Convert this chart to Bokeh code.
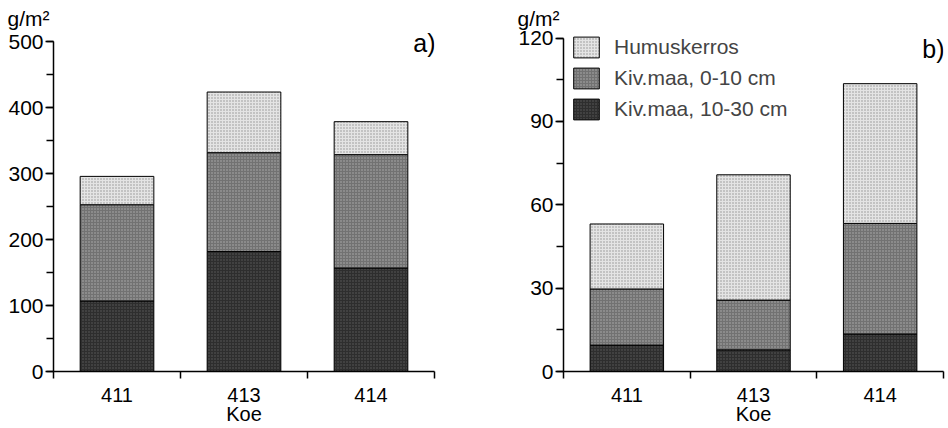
from bokeh.plotting import figure
from bokeh.models import (ColumnDataSource, Range1d, FixedTicker, SingleIntervalTicker,
                          Legend, LegendItem, Label, Title)
from bokeh.layouts import row
from bokeh.embed import file_html
from bokeh.resources import INLINE

categories = ["411", "413", "414"]
series = ["Humuskerros", "Kiv.maa, 0-10 cm", "Kiv.maa, 10-30 cm"]

# a) g/m2
a_deep = [107, 182, 157]
a_mid = [146, 150, 172]
a_humus = [43, 92, 50]

# b) g/m2
b_deep = [9.5, 7.8, 13.5]
b_mid = [20.2, 17.9, 39.8]
b_humus = [23.4, 45.1, 50.3]

FONT = "Liberation Sans"
KEYS = ["deep", "mid", "humus"]
FILL = {"deep": "#2e2e2e", "mid": "#727272", "humus": "#e4e4e4"}
DOTS = {"deep": "#5c5c5c", "mid": "#b0b0b0", "humus": "#909090"}


def make(deep, mid, humus, ymax, step, width, bl, br, bt, bb, axis_px,
         panel, panel_dy, legend):
    xs = [i + 0.5 for i in range(len(categories))]
    src = ColumnDataSource(dict(x=xs, deep=deep, mid=mid, humus=humus))
    frame_h = 428 - bt - bb
    yend = ymax * frame_h / axis_px
    p = figure(width=width, height=428, x_range=Range1d(0, len(categories)),
               y_range=Range1d(0, yend), output_backend="svg", toolbar_location=None,
               min_border_left=bl, min_border_right=br, min_border_top=bt, min_border_bottom=bb,
               title=None)
    p.outline_line_color = None
    p.grid.visible = False
    rs = p.vbar_stack(KEYS, x="x", width=0.58, source=src,
                      line_color="black", line_width=1,
                      fill_color=[FILL[k] for k in KEYS],
                      hatch_pattern=".", hatch_scale=3, hatch_weight=1,
                      hatch_color=[DOTS[k] for k in KEYS])
    xa = p.xaxis[0]
    xa.ticker = FixedTicker(ticks=xs, minor_ticks=list(range(len(categories) + 1)))
    xa.major_label_overrides = {x: c for x, c in zip(xs, categories)}
    xa.major_tick_out = 0
    xa.major_tick_in = 0
    xa.minor_tick_out = 7
    xa.minor_tick_in = 0
    xa.axis_label = "Koe"
    xa.axis_label_standoff = -2
    xa.axis_label_text_font_style = "normal"
    xa.major_label_standoff = 9
    ya = p.yaxis[0]
    ya.ticker = SingleIntervalTicker(interval=step, num_minor_ticks=2)
    ya.bounds = (0, ymax)
    ya.major_tick_out = 8
    ya.major_tick_in = 0
    ya.minor_tick_out = 7
    ya.minor_tick_in = 0
    ya.major_label_standoff = 2
    for ax in (xa, ya):
        ax.axis_line_width = 1.5
        ax.axis_line_color = "black"
        ax.major_tick_line_width = 1.5
        ax.minor_tick_line_width = 1.5
        ax.major_tick_line_color = "black"
        ax.minor_tick_line_color = "black"
        ax.major_label_text_font = FONT
        ax.major_label_text_font_size = "20px"
        ax.major_label_text_color = "black"
        ax.axis_label_text_font = FONT
        ax.axis_label_text_font_size = "20px"
        ax.axis_label_text_color = "black"
    ya.major_label_text_font_size = "21px"
    t = Title(text="g/m²", align="left", offset=-46, standoff=-3,
              text_font=FONT, text_font_size="21px", text_font_style="normal",
              text_color="black")
    p.add_layout(t, "above")
    p.add_layout(Label(x=len(categories), y=ymax, x_offset=1, y_offset=panel_dy, text=panel,
                       text_align="right", text_baseline="alphabetic",
                       text_font=FONT, text_font_size="25px", text_color="black"))
    if legend:
        items = [LegendItem(label=series[0], renderers=[rs[2]]),
                 LegendItem(label=series[1], renderers=[rs[1]]),
                 LegendItem(label=series[2], renderers=[rs[0]])]
        lg_h = 3 * 26 + 2 * 5
        lg = Legend(items=items, location=(7, frame_h - lg_h - 6), margin=0, padding=0,
                    border_line_color=None, background_fill_alpha=0,
                    glyph_width=32, glyph_height=26, spacing=5, label_standoff=12,
                    label_text_font=FONT, label_text_font_size="21px", label_height=26,
                    label_text_baseline="middle")
        p.add_layout(lg, "center")
    return p


pa = make(a_deep, a_mid, a_humus, 500, 100, 470, 53, 36, 28, 55, 331.5, "a)", -1.5, False)
pb = make(b_deep, b_mid, b_humus, 120, 30, 478, 93, 5, 28, 57, 333.4, "b)", -10.7, True)

layout = row(pa, pb)
open("out.html", "w").write(file_html(layout, INLINE))
